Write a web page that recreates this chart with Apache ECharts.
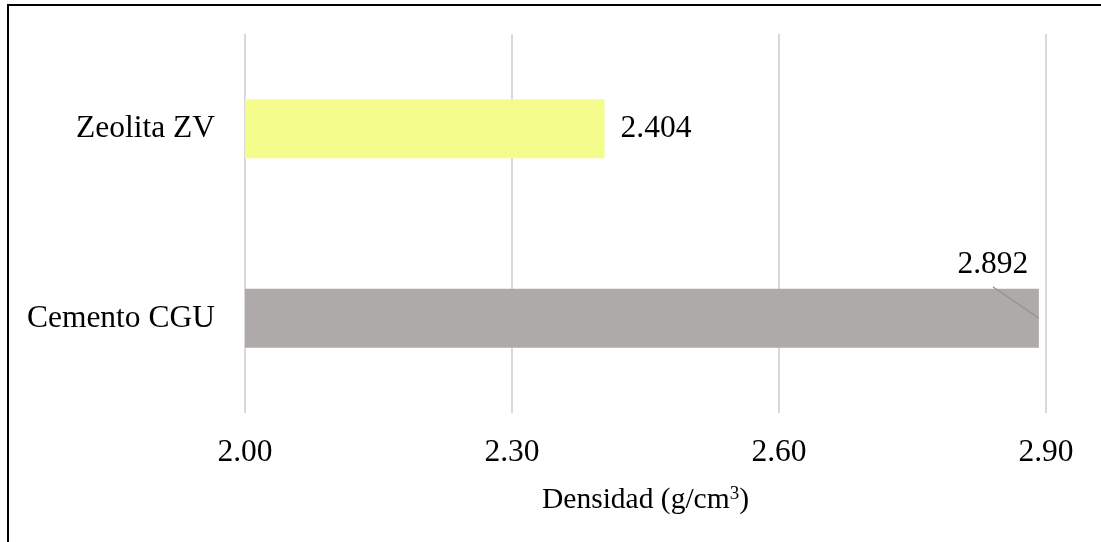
<!DOCTYPE html>
<html>
<head>
<meta charset="utf-8">
<script src="https://cdn.jsdelivr.net/npm/echarts@6/dist/echarts.min.js"></script>
<style>
  html, body { margin: 0; padding: 0; background: #fff; }
  #chart { width: 1101px; height: 542px; }
</style>
</head>
<body>
<div id="chart"></div>
<script>
// Material density, g/cm3
const categories = ['Cemento CGU', 'Zeolita ZV'];
const densities = [2.892, 2.404];
const barColors = ['#AEAAAA', '#F4FC8C'];
const axisMin = 2.0;
const axisMax = 2.9;
const axisStep = 0.3;

const FONT = '"Liberation Serif", "Times New Roman", serif';
const FS = 31.5;
const BAR_WIDTH = 59;

// label of the longest bar sits above its end, with a thin leader line
const LABEL_SHIFT_X = -46;
const LABEL_SHIFT_Y = -24;

const chart = echarts.init(document.getElementById('chart'), null, { renderer: 'canvas' });

const seriesData = densities.map((v, i) => ({ value: v, itemStyle: { color: barColors[i] } }));

chart.setOption({
  animation: false,
  backgroundColor: '#ffffff',
  textStyle: { fontFamily: FONT },
  graphic: [{
    type: 'rect',
    silent: true,
    shape: { x: 8, y: 5, width: 1200, height: 700 },
    style: { fill: null, stroke: '#000', lineWidth: 2 }
  }],
  grid: { left: 245, right: 55, top: 34, bottom: 129, containLabel: false },
  xAxis: {
    type: 'value',
    min: axisMin,
    max: axisMax,
    interval: axisStep,
    axisLine: { show: false },
    axisTick: { show: false },
    splitLine: { show: true, lineStyle: { color: '#D9D9D9', width: 2 } },
    axisLabel: {
      margin: 24,
      color: '#000',
      fontFamily: FONT,
      fontSize: FS,
      formatter: v => v.toFixed(2)
    },
    name: 'Densidad (g/cm{sup|3})',
    nameLocation: 'middle',
    nameGap: 72,
    nameTextStyle: {
      color: '#000',
      fontFamily: FONT,
      fontSize: FS - 2,
      rich: {
        sup: { fontSize: 19, fontFamily: FONT, color: '#000', padding: [0, 0, 12, 0] }
      }
    }
  },
  yAxis: {
    type: 'category',
    data: categories,
    axisLine: { show: false },
    axisTick: { show: false },
    splitLine: { show: false },
    axisLabel: {
      margin: 30,
      color: '#000',
      fontFamily: FONT,
      fontSize: FS,
      padding: [3, 0, 0, 0]
    }
  },
  series: [{
    type: 'bar',
    data: seriesData,
    barWidth: BAR_WIDTH,
    z: 2,
    label: {
      show: true,
      position: 'right',
      distance: 16,
      offset: [0, 3],
      color: '#000',
      fontFamily: FONT,
      fontSize: FS,
      formatter: p => p.value.toFixed(3)
    },
    labelLayout: function (p) {
      if (p.dataIndex !== 0) return {};
      const r = p.rect;
      return {
        x: r.x + r.width + LABEL_SHIFT_X,
        y: r.y + LABEL_SHIFT_Y,
        align: 'center',
        verticalAlign: 'middle'
      };
    }
  }, {
    // leader line from the bar end to its lifted label
    type: 'custom',
    z: 3,
    silent: true,
    data: [[densities[0], 0]],
    renderItem: function (params, api) {
      const end = api.coord([api.value(0), api.value(1)]);
      const barTop = end[1] - BAR_WIDTH / 2;
      return {
        type: 'line',
        shape: {
          x1: end[0] + LABEL_SHIFT_X,
          y1: barTop - 2,
          x2: end[0],
          y2: end[1]
        },
        style: { stroke: '#929292', lineWidth: 1.2 }
      };
    }
  }]
});
</script>
</body>
</html>
